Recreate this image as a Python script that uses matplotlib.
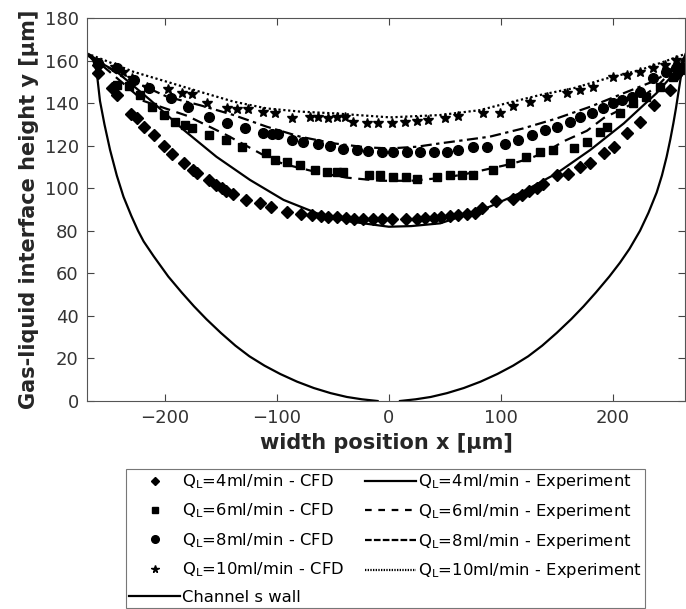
import matplotlib
matplotlib.use("Agg")
import matplotlib.pyplot as plt
from matplotlib.lines import Line2D

# channel wall (left and right halves, small gap at the bottom)
wall_lx = [-269, -264, -261, -259.5, -258, -254, -249, -243, -237, -230, -224, -219, -210, -197, -185, -174,
           -163, -150, -137, -124.5, -111, -97, -82, -67, -52, -37.5, -24, -10]
wall_ly = [163, 160, 155, 148, 141, 130, 118, 106, 96, 87, 80, 75, 68, 58.5, 51, 44.5,
           38.5, 32, 26, 21, 16.6, 12.7, 9.1, 6.1, 3.7, 1.9, 0.8, 0]
wall_rx = [10, 24, 37.5, 52, 67, 82, 97, 111, 124.5, 137, 150, 163, 174, 185, 197, 206.5, 215, 224.4, 232,
           239.3, 244, 248.2, 251.5, 254.2, 256.5, 258.6, 260.5, 261.6, 263, 265]
wall_ry = [0, 0.8, 1.9, 3.7, 6.1, 9.1, 12.7, 16.6, 21, 26, 32, 38.5, 44.5, 51, 58.5, 65, 71.5, 80, 88.5,
           98, 106, 114.8, 123, 130.5, 137.5, 144.6, 151, 154.5, 160, 163]

# experiment profiles
exp4_x = [-270, -243, -213, -183, -154, -124, -94, -64, -34, 0, 20, 46, 90, 120, 150, 180, 210, 239, 263, 265]
exp4_y = [162.6, 154.7, 141.4, 127.3, 114.8, 103.9, 94.5, 88.2, 84.3, 81.9, 82.2, 83.5, 91.3, 98.4, 107, 118,
          130.5, 144.6, 158.7, 161]
exp6_x = [-268, -250, -219, -180, -145, -103, -91, -64, -38, -8, 20, 50, 67, 80, 110, 126, 140, 156, 177, 192,
          215, 240, 265]
exp6_y = [163, 155, 141, 134, 125, 113, 111, 107.5, 105, 103.5, 103.5, 105, 106.5, 108, 111.5, 114, 117, 122,
          127, 133, 139, 148, 162]
exp8_x = [-268, -240, -198, -168.5, -138.7, -109, -79, -49.5, -20, 1, 25, 46, 90, 120, 150, 180, 209.5, 239,
          263, 265]
exp8_y = [163, 153, 143, 139, 134.4, 128.9, 124.2, 121.1, 119.2, 118.7, 119.5, 121.1, 124.2, 128.1, 132.8,
          138.3, 144.6, 150.8, 160.2, 161.5]
exp10_x = [-270, -258, -228, -198, -168.5, -138.7, -109, -79, -49.5, 1, 46, 81.5, 105, 135, 165, 194.6, 224.4,
           254, 266]
exp10_y = [163.4, 161, 154.7, 150, 145.3, 140.7, 137.5, 136, 135.2, 133.3, 134.4, 136.7, 139.9, 143.8, 147,
           151.6, 155.5, 161, 163.4]

# CFD results
cfd4_x = [-260, -260, -247, -243, -230, -225, -219, -210, -201, -194, -183, -175, -171, -161, -154, -149, -145,
          -139, -128, -115, -105, -91, -78, -69, -61, -54, -46, -38, -31, -23, -14, -6, 3, 15, 25, 32, 40, 47,
          55, 62, 70, 77, 83, 96, 111, 119, 125, 132, 138, 150, 160, 171, 180, 192, 201, 213, 224, 237, 251,
          257, 262]
cfd4_y = [158, 154, 147, 144, 135, 133, 129, 125, 120, 116, 112, 108.5, 107, 104, 101.5, 100, 98.5, 97.5, 94.5,
          93, 91, 89, 87.7, 87.4, 87, 86.6, 86.3, 86, 85.5, 85.5, 85.5, 85.5, 85.5, 85.5, 85.5, 86, 86, 86.5,
          87, 87.5, 88, 88.5, 90.5, 94, 95, 97, 98.5, 100, 102, 106, 106.5, 110, 112, 116.5, 119.5, 126, 131,
          139, 146, 153, 157]
cfd6_x = [-243, -232.5, -222, -211.5, -201, -191, -182, -176, -161, -145, -131, -110, -101.5, -91, -79, -66,
          -55, -46.5, -40.5, -18, -8, 4, 15, 25, 43, 55, 65, 75.5, 93, 108, 123, 135, 147, 165, 177, 189, 195,
          206.5, 218, 230, 242, 254, 260]
cfd6_y = [148.5, 148, 143.8, 138.3, 134.4, 131.3, 129.7, 128.1, 125, 122.6, 119.5, 116.7, 113.3, 112.5, 110.9,
          108.6, 107.8, 107.8, 107.8, 106.2, 106.2, 105.4, 105.4, 104.5, 105.4, 106.2, 106.2, 106.2, 108.6,
          111.7, 114.8, 117.1, 118, 118.7, 121.9, 126.6, 128.9, 135.2, 139.9, 143, 147.7, 152.4, 155.5]
cfd8_x = [-260, -243, -228, -214.6, -195, -179, -161, -144.6, -128.3, -112, -104.6, -98.6, -86.6, -76.2, -62.8,
          -52.4, -40.5, -28.7, -18.2, -6.3, 4, 16, 28, 40, 51.8, 62.2, 75.5, 87.5, 103.8, 115.7, 127.7, 139.5,
          150, 161.9, 170.8, 181.3, 191.6, 200.6, 208, 217, 224.4, 236, 248, 257]
cfd8_y = [158.7, 156.3, 150.8, 147, 142.2, 138.3, 133.6, 130.5, 128.1, 125.8, 125.5, 125.5, 122.6, 121.9,
          120.8, 119.8, 118.3, 117.9, 117.6, 117.2, 117.2, 117.2, 117.2, 117.2, 117.2, 117.9, 119.5, 119.5,
          121, 122.6, 125, 127.3, 128.9, 131.3, 133.6, 135.2, 137.6, 140, 141.5, 143, 145.4, 151.6, 154.7, 156.3]
cfd10_x = [-244.4, -237, -229.5, -216, -196.8, -184.8, -176, -162.5, -144.6, -136, -125.4, -112, -101.5, -86.6,
           -70.3, -62.8, -53.9, -46.5, -39, -31.6, -19.7, -9.2, 2.7, 14.6, 25, 35.4, 50.3, 62.2, 84.5, 99.4,
           111.3, 126, 141, 159, 170.8, 182.7, 200.5, 212.5, 224.4, 236.3, 246.7, 257]
cfd10_y = [157, 154.7, 151.6, 147.7, 146.5, 144.6, 144.3, 140.2, 137.5, 137.2, 137.1, 136, 135.5, 132.8, 133.3,
           133.3, 132.8, 133.3, 133.6, 131.3, 130.8, 130.8, 130.8, 131.3, 131.8, 132, 132.8, 133.9, 135.2,
           135.2, 138.6, 140.7, 142.7, 144.6, 146.1, 147.4, 152.1, 153.2, 154.7, 156.3, 157.9, 160.2]

flows = ["4", "6", "8", "10"]

fig = plt.figure(figsize=(6.86, 6.09), dpi=100)
ax = fig.add_axes([87 / 686, 1 - 401 / 609, (685 - 87) / 686, (401 - 18) / 609])

ax.plot(wall_lx, wall_ly, color='k', lw=1.6)
ax.plot(wall_rx, wall_ry, color='k', lw=1.6)

ax.plot(exp4_x, exp4_y, color='k', lw=1.6, ls='-')
ax.plot(exp6_x, exp6_y, color='k', lw=1.6, ls=(0, (5, 3)))
ax.plot(exp8_x, exp8_y, color='k', lw=1.6, ls=(0, (5, 2, 1.5, 2)))
ax.plot(exp10_x, exp10_y, color='k', lw=1.6, ls=(0, (1, 1.2)))

ax.plot(cfd4_x, cfd4_y, 'D', color='k', ms=6.5, ls='none')
ax.plot(cfd6_x, cfd6_y, 's', color='k', ms=6, ls='none')
ax.plot(cfd8_x, cfd8_y, 'o', color='k', ms=7, ls='none')
ax.plot(cfd10_x, cfd10_y, '*', color='k', ms=7.5, ls='none')

ax.set_xlim(-269.6, 264.6)
ax.set_ylim(0, 180)
ax.set_xticks([-200, -100, 0, 100, 200])
ax.set_yticks(range(0, 181, 20))
ax.tick_params(direction='in', top=True, right=True, length=5, width=0.8,
               labelsize=13, colors='#444444', labelcolor='#333333', pad=6)
for s in ax.spines.values():
    s.set_color('#555555')
    s.set_linewidth(0.8)

ax.set_xlabel('width position x [μm]', fontsize=15, fontweight='bold', color='#262626', labelpad=4)
ax.set_ylabel('Gas-liquid interface height y [μm]', fontsize=15, fontweight='bold', color='#262626',
              labelpad=4)

# legend: CFD markers + wall in first column, experiments in second
handles = [Line2D([], [], color='k', marker='D', ls='none', ms=4.5),
           Line2D([], [], color='k', marker='s', ls='none', ms=4.5),
           Line2D([], [], color='k', marker='o', ls='none', ms=5.5),
           Line2D([], [], color='k', marker='*', ls='none', ms=5.5),
           Line2D([], [], color='k', lw=1.6),
           Line2D([], [], color='k', lw=1.6, ls='-'),
           Line2D([], [], color='k', lw=1.6, ls=(0, (3, 3))),
           Line2D([], [], color='k', lw=1.6, ls=(0, (3, 1, 3, 1))),
           Line2D([], [], color='k', lw=1.6, ls=(0, (0.6, 0.6)))]
labels = [r'Q$_\mathregular{L}$=' + f + 'ml/min - CFD' for f in flows] + ['Channel s wall'] + \
         [r'Q$_\mathregular{L}$=' + f + 'ml/min - Experiment' for f in flows]

leg = fig.legend(handles, labels, ncol=2, loc='upper left', bbox_to_anchor=(126 / 686, 1 - 469 / 609),
                 fontsize=11.8, frameon=True, fancybox=False, borderpad=0.2, borderaxespad=0,
                 handlelength=3.1, handletextpad=0.1, columnspacing=1.3, labelspacing=0.65)
leg.get_frame().set_edgecolor('#555555')
leg.get_frame().set_linewidth(0.8)

fig.savefig('out.png', dpi=100)
